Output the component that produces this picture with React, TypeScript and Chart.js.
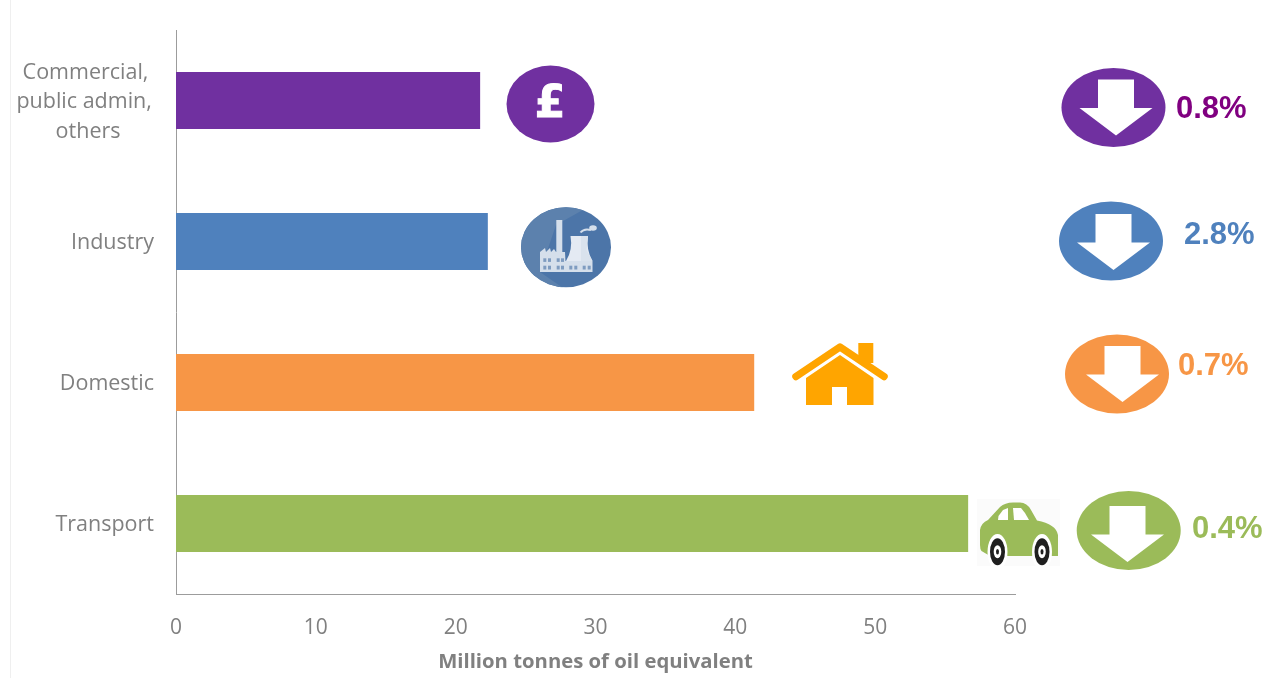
import { useEffect, useRef } from "react";
import { Chart, registerables } from "chart.js";

Chart.register(...registerables);

// Final energy consumption by sector
const sectorLabels: (string | string[])[] = [
  ["Commercial,\u00a0", "public admin,\u200a", "others\u00a0\u00a0\u00a0\u00a0\u00a0\u00a0"],
  "Industry",
  "Domestic",
  "Transport",
];
const consumption = [21.75, 22.3, 41.35, 56.65];
const barColours = ["#7030a0", "#4f81bd", "#f79646", "#9bbb59"];
const changeLabels = ["0.8%", "2.8%", "0.7%", "0.4%"];
const changeColours = ["#800080", "#4f81bd", "#f79646", "#9bbb59"];
const xTicks = [0, 10, 20, 30, 40, 50, 60];
const xTitle = "Million tonnes of oil equivalent";

const GREY = "#808080";
const AXIS = "#9c9c9c";
const WIDTH = 1266;
const HEIGHT = 678;

// Placement of each "down" badge: ellipse centre, then arrow centre and the percentage label
const badgeCentres = [[1113.5, 107.5], [1111, 241], [1117, 374], [1128.7, 530.5]];
const arrowCentres = [[1116, 108], [1113.5, 242.5], [1122.5, 374.5], [1127.5, 534.5]];
const labelAnchors = [[1176, 109], [1184, 235], [1178, 366], [1192, 529]];

function ellipse(c: CanvasRenderingContext2D, x: number, y: number, rx: number, ry: number, fill: string) {
  c.fillStyle = fill;
  c.beginPath();
  c.ellipse(x, y, rx, ry, 0, 0, Math.PI * 2);
  c.fill();
}

function poly(c: CanvasRenderingContext2D, pts: number[][], fill: string) {
  c.fillStyle = fill;
  c.beginPath();
  pts.forEach(([x, y], i) => (i ? c.lineTo(x, y) : c.moveTo(x, y)));
  c.closePath();
  c.fill();
}

function downArrow(c: CanvasRenderingContext2D, x: number, y: number) {
  poly(c, [
    [x - 18, y - 28.5], [x + 18, y - 28.5], [x + 18, y], [x + 36.5, y],
    [x, y + 27.5], [x - 36.5, y], [x - 18, y],
  ], "#ffffff");
}

function poundIcon(c: CanvasRenderingContext2D) {
  ellipse(c, 550.5, 104, 44, 38.5, "#7030a0");
  c.fillStyle = "#ffffff";
  c.strokeStyle = "#ffffff";
  c.lineWidth = 1;
  c.font = "bold 44px 'DejaVu Sans'";
  c.textAlign = "center";
  c.textBaseline = "middle";
  c.fillText("£", 550, 106);
  c.strokeText("£", 550, 106);
}

function factoryIcon(c: CanvasRenderingContext2D) {
  c.save();
  c.beginPath();
  c.ellipse(566, 247.3, 45, 40, 0, 0, Math.PI * 2);
  c.clip();
  c.fillStyle = "#4c75a8";
  c.fillRect(520, 206, 92, 84);
  // lighter side left of the buildings
  poly(c, [[520, 206], [590, 206], [556, 225], [540, 272], [566, 290], [520, 290]], "#5c81ad");
  c.restore();

  const light = "#d5dfeb";
  const pale = "#e4eaf3";
  // chimney and main block with its saw-tooth roof
  c.fillStyle = light;
  c.fillRect(556.3, 220, 6, 32);
  poly(c, [
    [540, 272], [540, 252], [545, 248], [546, 252], [550, 248], [551, 252], [554, 249],
    [556, 252], [565, 252], [566, 272],
  ], light);
  // cooling tower and the low annex
  c.fillRect(565, 261, 27.5, 11);
  c.fillStyle = pale;
  c.beginPath();
  c.moveTo(570.5, 236);
  c.lineTo(588, 236);
  c.quadraticCurveTo(586, 250, 592.5, 261);
  c.lineTo(566, 261);
  c.quadraticCurveTo(573, 250, 570.5, 236);
  c.fill();
  poly(c, [[581, 236], [588, 236], [586.5, 250], [592.5, 261], [581, 261]], "#d9e2ed");

  c.fillStyle = "#7f9cc0";
  [543.3, 548, 556.7, 561].forEach((x) => {
    c.fillRect(x, 258.3, 3, 3.6);
    c.fillRect(x, 265.7, 3, 3.8);
  });
  [569.3, 574.3, 582.7, 587.7].forEach((x) => c.fillRect(x, 265.7, 3, 3.8));

  // smoke curl
  c.strokeStyle = light;
  c.lineWidth = 2;
  c.beginPath();
  c.moveTo(580.5, 232.5);
  c.quadraticCurveTo(584, 228, 591, 230);
  c.stroke();
  ellipse(c, 593, 228, 3.8, 2.8, light);
}

function houseIcon(c: CanvasRenderingContext2D) {
  const colour = "#ffa500";
  c.fillStyle = colour;
  c.fillRect(858.3, 343, 15, 20);
  c.strokeStyle = colour;
  c.lineWidth = 7.5;
  c.lineCap = "round";
  c.lineJoin = "round";
  c.beginPath();
  c.moveTo(796, 376.5);
  c.lineTo(840, 347);
  c.lineTo(884, 376.5);
  c.stroke();
  c.lineCap = "butt";
  poly(c, [
    [806, 378], [840, 355], [873.5, 378], [873.5, 405], [847, 405], [847, 387],
    [832, 387], [832, 405], [806, 405],
  ], colour);
}

function carIcon(c: CanvasRenderingContext2D) {
  const green = "#9bbb59";
  c.fillStyle = "#fbfbfb";
  c.fillRect(977, 499, 83, 67);
  c.fillStyle = green;
  c.beginPath();
  c.moveTo(981.5, 551);
  c.quadraticCurveTo(980, 549, 980, 545);
  c.lineTo(980, 530);
  c.quadraticCurveTo(981, 523, 988, 520);
  c.lineTo(1000, 507);
  c.quadraticCurveTo(1005, 502.5, 1013, 502.5);
  c.lineTo(1020, 502.5);
  c.quadraticCurveTo(1027, 502.5, 1031, 510);
  c.lineTo(1037, 520.5);
  c.quadraticCurveTo(1056, 524, 1058, 535);
  c.lineTo(1058, 556);
  c.lineTo(990, 556);
  c.closePath();
  c.fill();
  // windows
  poly(c, [[998, 520], [998.5, 516], [1003, 510], [1008, 508], [1008, 520]], "#ffffff");
  poly(c, [[1013, 508], [1021, 508], [1025, 513], [1029, 520], [1014, 520]], "#ffffff");
  // wheels with white arches
  [997.5, 1042].forEach((x) => {
    ellipse(c, x, 552, 10, 18, "#ffffff");
    ellipse(c, x, 551.7, 7.5, 13.5, "#1f1f1f");
    ellipse(c, x, 551.7, 3.8, 6.5, "#ffffff");
    ellipse(c, x, 551.7, 1.5, 2.8, "#1f1f1f");
  });
}

const decorations = {
  id: "decorations",
  afterDraw(chart: Chart) {
    const c = chart.ctx;
    c.save();
    // faint edge along the left of the page
    c.fillStyle = "#efefef";
    c.fillRect(10, 0, 1, HEIGHT);

    poundIcon(c);
    factoryIcon(c);
    houseIcon(c);
    carIcon(c);

    changeLabels.forEach((text, i) => {
      const [ex, ey] = badgeCentres[i];
      ellipse(c, ex, ey, 52, 39.5, barColours[i]);
      const [ax, ay] = arrowCentres[i];
      downArrow(c, ax, ay);
      const [lx, ly] = labelAnchors[i];
      c.fillStyle = changeColours[i];
      c.font = "bold 31px 'Liberation Sans'";
      c.textAlign = "left";
      c.textBaseline = "middle";
      c.fillText(text, lx, ly);
    });
    c.restore();
  },
};

export default function App() {
  const ref = useRef<HTMLCanvasElement>(null);

  useEffect(() => {
    const chart = new Chart(ref.current!, {
      type: "bar",
      data: {
        labels: sectorLabels,
        datasets: [{
          data: consumption,
          backgroundColor: barColours,
          categoryPercentage: 1,
          barPercentage: 0.404,
        }],
      },
      options: {
        indexAxis: "y",
        responsive: false,
        animation: false,
        layout: { padding: { top: 30, right: 251, left: 0, bottom: 0 } },
        plugins: { legend: { display: false }, tooltip: { enabled: false } },
        scales: {
          x: {
            type: "linear",
            min: xTicks[0],
            max: xTicks[xTicks.length - 1],
            afterBuildTicks: (axis) => {
              axis.ticks = xTicks.map((value) => ({ value }));
            },
            afterFit: (axis) => {
              axis.height = 84;
            },
            grid: { display: false, drawTicks: false },
            border: { color: AXIS, width: 1 },
            ticks: {
              color: GREY,
              padding: 21,
              maxRotation: 0,
              font: { family: "'Open Sans'", size: 21 },
            },
            title: {
              display: true,
              text: xTitle,
              color: GREY,
              padding: { top: 3, bottom: 4 },
              font: { family: "'Open Sans'", size: 20.3, weight: "bold" },
            },
          },
          y: {
            afterFit: (axis) => {
              axis.width = 176;
              // the three-line label may overhang the plot without moving it
              axis.paddingTop = 0;
              axis.paddingBottom = 0;
            },
            grid: { display: false, drawTicks: false },
            border: { color: AXIS, width: 1 },
            ticks: {
              color: GREY,
              padding: 22,
              labelOffset: 1.5,
              font: { family: "'Open Sans'", size: 21.5, lineHeight: 1.37 },
            },
          },
        },
      },
      plugins: [decorations],
    });
    return () => chart.destroy();
  }, []);

  return (
    <div style={{ position: "fixed", left: 0, top: 0, width: WIDTH, height: HEIGHT, background: "#ffffff" }}>
      <canvas ref={ref} width={WIDTH} height={HEIGHT} style={{ display: "block" }} />
    </div>
  );
}
